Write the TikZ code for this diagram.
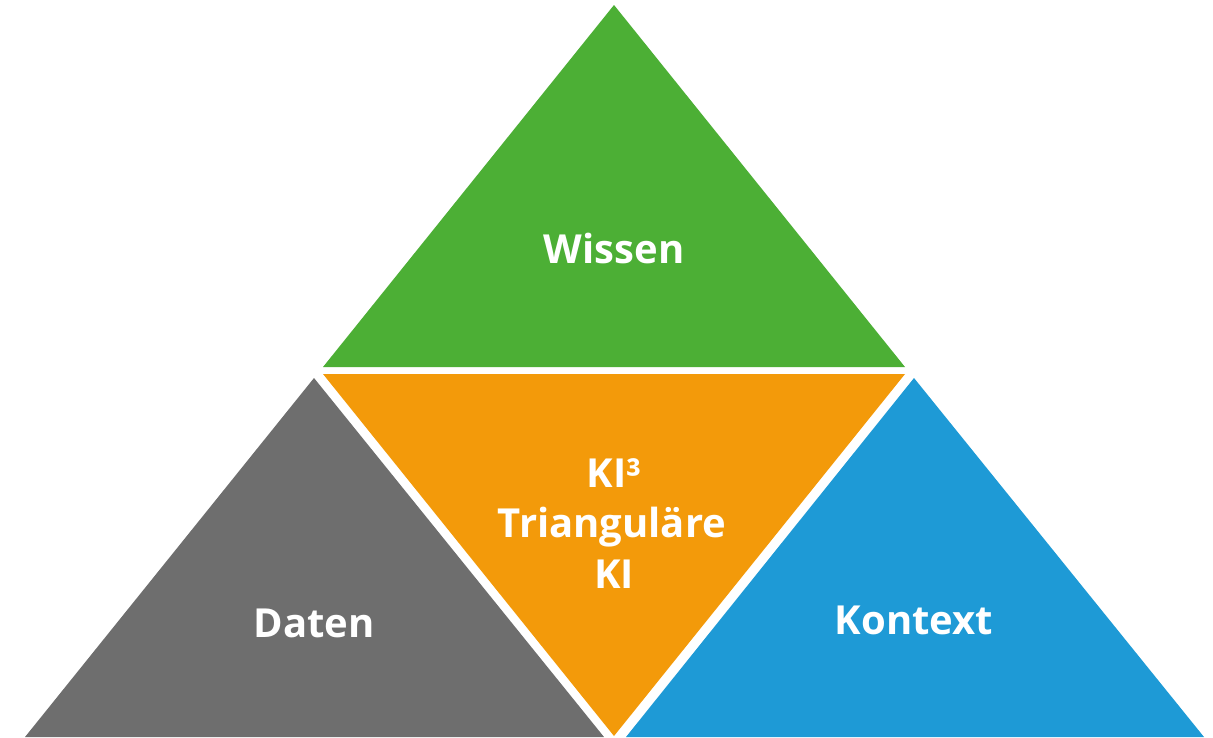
\documentclass[tikz,border=0pt]{standalone}
\usepackage{fontspec}
\setmainfont{Open Sans}
\definecolor{cgreen}{HTML}{4CAF35}
\definecolor{corange}{HTML}{F39A0A}
\definecolor{cgray}{HTML}{6E6E6E}
\definecolor{cblue}{HTML}{1E9AD6}
\begin{document}
\begin{tikzpicture}[x=1pt,y=-1pt,
  lbl/.style={text=white,font=\fontsize{40}{50}\selectfont\bfseries,anchor=base,inner sep=0pt}]
\useasboundingbox (0,0) rectangle (1213,737);
\fill[white] (0,0) rectangle (1213,737);
\coordinate (gA) at (614,5);
\coordinate (gL) at (323,367);
\coordinate (gR) at (905,367);
\coordinate (oL) at (323,374);
\coordinate (oR) at (905,374);
\coordinate (oB) at (614,736);
\coordinate (dA) at (314,378);
\coordinate (dL) at (25,737);
\coordinate (dR) at (604,737);
\coordinate (bA) at (914,378);
\coordinate (bL) at (626,737);
\coordinate (bR) at (1204,737);
\fill[cgreen] (gA) -- (gL) -- (gR) -- cycle;
\fill[corange] (oL) -- (oR) -- (oB) -- cycle;
\fill[cgray] (dA) -- (dL) -- (dR) -- cycle;
\fill[cblue] (bA) -- (bL) -- (bR) -- cycle;
\node[lbl] (wissen) at (614,263) {Wissen};
\node[lbl] (ki3) at (614,487) {KI³};
\node[lbl] (tri) at (612,537) {Trianguläre};
\node[lbl] (ki) at (614,588) {KI};
\node[lbl] (daten) at (314,637) {Daten};
\node[lbl] (kontext) at (914,634) {Kontext};
\end{tikzpicture}
\end{document}
